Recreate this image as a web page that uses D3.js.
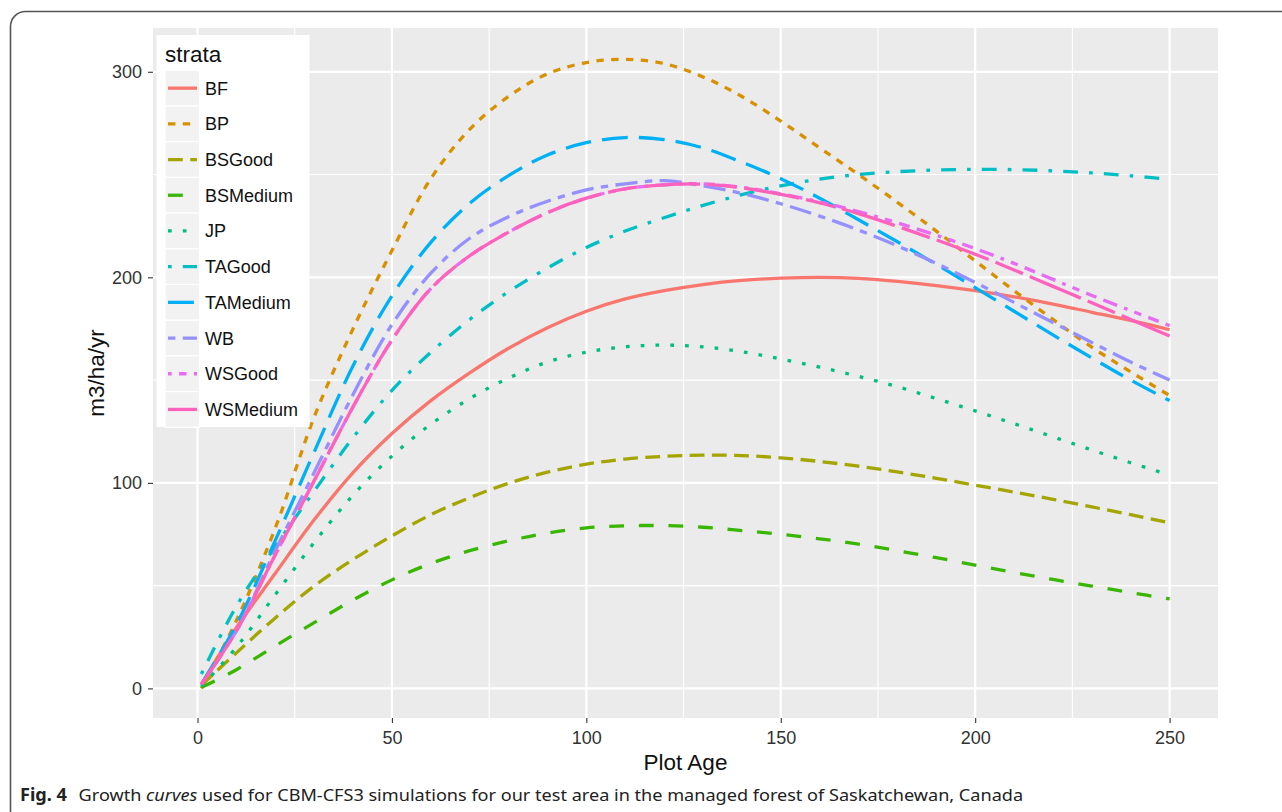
<!DOCTYPE html>
<html><head><meta charset="utf-8">
<script src="https://cdn.jsdelivr.net/npm/d3@7"></script>
<style>body{margin:0;background:#fff;} svg{display:block;}</style>
</head><body>
<svg id="chart" width="1282" height="812"></svg>
<script>
// ---- data ----
const ages     = [1,10,20,30,40,50,60,70,80,90,100,110,120,130,140,150,160,170,180,190,200,210,220,230,240,250];
const BF       = [2,29.5,56,82,105,124,140,153.5,165.5,175.5,183.5,189.5,193.5,196.5,198.5,199.6,200,199.5,198,196,193.5,190.5,187,183,179,174.5];
const BP       = [0,33,78,132,175,213,248,272,288,299,304.5,306,304,297.5,288,276,263,250,236.5,222.5,208,193.5,179.5,166,154,142.5];
const BSGood   = [1.5,17.3,34.3,49.8,62.7,74.2,84.5,92.8,99.8,105.2,109.1,111.6,112.9,113.5,113.3,112.2,110.4,108.1,105.3,102.2,98.9,95.5,92,88.3,84.5,80.6];
const BSMedium = [0.5,9.1,20.7,32,43,52.8,60.8,67,71.8,75.6,78.1,79.1,79.2,78.4,76.8,75,72.8,70.2,67,63.6,60,56.4,53,49.8,46.6,43.5];
const JP       = [1,20,45.6,71,94,113,128.5,141,151,158.8,163.6,166.2,167,166.2,163.8,160.3,156.3,151.8,146.8,141,135,128.8,122.4,116,109.8,103.8];
const TAGood   = [7,40,69,96,122,145,163.5,179.5,193,204.5,214.5,222.5,229,235,240.2,244.5,247.8,250,251.4,252.2,252.5,252.4,251.8,250.8,249.4,247.6];
const TAMedium = [2,31,72,115,157,191,217,236,249.5,259.5,265.5,268,267,263,256,248,238.5,228,217.3,206.3,195,183.5,172,160.8,150,140];
const WB       = [2,28,67,105,143,177,202,219,229.5,237,242.5,245.5,247,244.5,240.8,235.8,229.8,223,215.3,206.8,197.5,187.8,178,168.3,158.8,150];
const WSGood   = [2,28,65,101,137,169.5,194.5,210.5,222,231.5,238.5,243,245,245.5,243.8,240.6,236.7,232,226.5,220.5,214,206.8,199,191.2,183.8,176.5];
const WSMedium = [2,28,65,101,137,169.5,194.5,210.5,222,231.5,238.5,243,245,245.3,243.5,240.3,236.2,231,224.8,218.2,211.2,203.6,195.6,187.6,179.5,171.5];

const strata   = ["BF","BP","BSGood","BSMedium","JP","TAGood","TAMedium","WB","WSGood","WSMedium"];
const seriesValues = [BF,BP,BSGood,BSMedium,JP,TAGood,TAMedium,WB,WSGood,WSMedium];
const colors   = ["#F8766D","#D89000","#A3A500","#39B600","#00BF7D","#00BFC4","#00B0F6","#9590FF","#E76BF3","#FF62BC"];
const linetypes= ["","22","42","44","13","1343","73","2262","12223242","F282"];
const xTicks   = [0,50,100,150,200,250];
const xMinor   = [25,75,125,175,225];
const yTicks   = [0,100,200,300];
const yMinor   = [50,150,250];

// ---- layout ----
const svg = d3.select("#chart");
const P = {left:153, right:1218, top:28, bottom:718};
const x = d3.scaleLinear().domain([-11.45, 262.45]).range([P.left, P.right]);
const y = d3.scaleLinear().domain([-14.4, 321.3]).range([P.bottom, P.top]);
const LW = 3.3, U = 3.7;
function dash(lt){
  if(!lt) return null;
  return lt.split("").map(c => parseInt(c,16)*U).join(",");
}

// outer frame
svg.append("rect").attr("x",10.5).attr("y",11.5).attr("width",1400).attr("height",1000)
  .attr("rx",15).attr("fill","none").attr("stroke","#555").attr("stroke-width",1.6);

// panel
svg.append("rect").attr("x",P.left).attr("y",P.top).attr("width",P.right-P.left).attr("height",P.bottom-P.top)
  .attr("fill","#EBEBEB");
const g = svg.append("g");
g.selectAll(".ymin").data(yMinor).join("line").attr("x1",P.left).attr("x2",P.right)
  .attr("y1",d=>y(d)).attr("y2",d=>y(d)).attr("stroke","#fff").attr("stroke-width",1.1);
g.selectAll(".xmin").data(xMinor).join("line").attr("y1",P.top).attr("y2",P.bottom)
  .attr("x1",d=>x(d)).attr("x2",d=>x(d)).attr("stroke","#fff").attr("stroke-width",1.1);
g.selectAll(".ymaj").data(yTicks).join("line").attr("x1",P.left).attr("x2",P.right)
  .attr("y1",d=>y(d)).attr("y2",d=>y(d)).attr("stroke","#fff").attr("stroke-width",2.2);
g.selectAll(".xmaj").data(xTicks).join("line").attr("y1",P.top).attr("y2",P.bottom)
  .attr("x1",d=>x(d)).attr("x2",d=>x(d)).attr("stroke","#fff").attr("stroke-width",2.2);

// lines
const line = d3.line().x(d=>x(d[0])).y(d=>y(d[1])).curve(d3.curveCatmullRom.alpha(0.5));
svg.append("clipPath").attr("id","pc").append("rect")
  .attr("x",P.left).attr("y",P.top).attr("width",P.right-P.left).attr("height",P.bottom-P.top);
const lg = svg.append("g").attr("clip-path","url(#pc)");
strata.forEach((s,i)=>{
  const pts = ages.map((a,j)=>[a, seriesValues[i][j]]);
  lg.append("path").attr("d",line(pts)).attr("fill","none")
    .attr("stroke",colors[i]).attr("stroke-width",LW)
    .attr("stroke-dasharray",dash(linetypes[i]))
    .attr("stroke-linecap","butt").attr("stroke-linejoin","round");
});

// axes
const fontF = "'Liberation Sans', Arial, sans-serif";
const ax = svg.append("g").attr("transform",`translate(0,${P.bottom})`)
  .call(d3.axisBottom(x).tickValues(xTicks).tickSize(5).tickPadding(8.5));
const ay = svg.append("g").attr("transform",`translate(${P.left},0)`)
  .call(d3.axisLeft(y).tickValues(yTicks).tickSize(5).tickPadding(6));
[ax,ay].forEach(a=>{
  a.select(".domain").remove();
  a.selectAll(".tick line").attr("stroke","#333").attr("stroke-width",1.1);
  a.selectAll(".tick text").attr("fill","#333").style("font-family",fontF).style("font-size","18px");
});

// axis titles
svg.append("text").attr("x",(P.left+P.right)/2).attr("y",769.5).attr("text-anchor","middle")
  .style("font-family",fontF).style("font-size","22.5px").attr("fill","#111").text("Plot Age");
svg.append("text").attr("transform",`translate(103.5,${(P.top+P.bottom)/2}) rotate(-90)`)
  .attr("text-anchor","middle").style("font-family",fontF).style("font-size","22.5px")
  .attr("fill","#111").text("m3/ha/yr");

// legend
const L = {x:156.5, y:35, w:153, h:392, rowTop:70.3, rowH:35.7};
svg.append("rect").attr("x",L.x).attr("y",L.y).attr("width",L.w).attr("height",L.h).attr("fill","#fff");
svg.append("text").attr("x",165).attr("y",61.5).style("font-family",fontF).style("font-size","22.5px")
  .attr("fill","#111").text("strata");
strata.forEach((s,i)=>{
  const ty = L.rowTop + i*L.rowH;
  svg.append("rect").attr("x",165).attr("y",ty).attr("width",34.5).attr("height",L.rowH)
    .attr("fill","#F2F2F2").attr("stroke","#fff").attr("stroke-width",1.2);
  svg.append("line").attr("x1",168).attr("x2",197).attr("y1",ty+L.rowH/2).attr("y2",ty+L.rowH/2)
    .attr("stroke",colors[i]).attr("stroke-width",LW).attr("stroke-dasharray",dash(linetypes[i]));
  svg.append("text").attr("x",205).attr("y",ty+L.rowH/2+6.5).style("font-family",fontF)
    .style("font-size","18px").attr("fill","#111").text(s);
});

// caption
const cap = svg.append("text").attr("x",20).attr("y",801)
  .style("font-family","'Noto Sans', 'Open Sans', sans-serif").style("font-size","17px").attr("fill","#222");
cap.append("tspan").attr("font-weight","bold").text("Fig. 4");
cap.append("tspan").attr("dx",11).text("Growth ");
cap.append("tspan").attr("font-style","italic").text("curves");
cap.append("tspan").text(" used for CBM-CFS3 simulations for our test area in the managed forest of Saskatchewan, Canada");
const bb = cap.node().getBBox();
const sc = (1024-20)/bb.width;
cap.attr("transform",`translate(20,0) scale(${sc},1) translate(-20,0)`);
</script>
</body></html>
